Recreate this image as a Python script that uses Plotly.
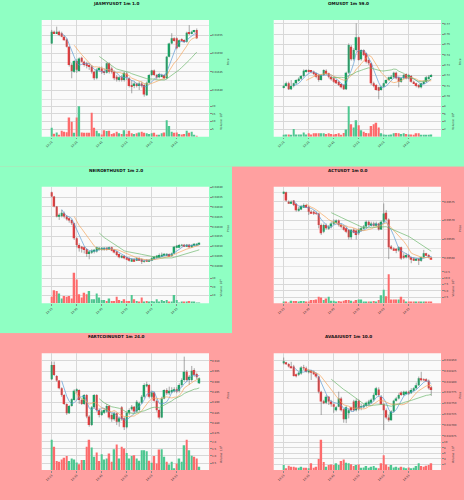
import plotly.graph_objects as go
import pandas as pd

# ---------------- shared time axis ----------------
TIME_LABELS = ["13:21", "13:31", "13:41", "13:51", "14:01", "14:11"]
TIME_TICK_INDEX = [0, 10, 20, 30, 40, 50]

# ---------------- JASMYUSDT (prices in 1e-6 USDT, volume in 1e5) ----------------
jasmy_open = [16527,16559,16555,16559,16555,16545,16538,16518,16468,16450,16479,16452,16488,16477,16473,16468,16464,16450,16432,16455,16459,16450,16447,16473,16459,16450,16436,16427,16436,16427,16445,16432,16414,16411,16418,16411,16418,16414,16386,16420,16441,16453,16441,16435,16438,16441,16432,16491,16527,16541,16541,16518,16538,16536,16532,16556,16555,16559,16564]
jasmy_close = [16559,16555,16559,16550,16545,16536,16518,16468,16452,16479,16455,16486,16477,16468,16468,16464,16450,16432,16455,16459,16450,16447,16473,16450,16450,16432,16429,16435,16427,16447,16435,16411,16409,16418,16411,16418,16411,16388,16420,16441,16453,16441,16434,16444,16441,16432,16491,16527,16541,16536,16514,16536,16535,16532,16556,16553,16559,16562,16541]
jasmy_high = [16564,16562,16573,16562,16559,16550,16541,16520,16473,16482,16484,16489,16491,16480,16477,16473,16468,16453,16459,16464,16464,16459,16475,16475,16464,16453,16441,16438,16441,16450,16450,16435,16427,16423,16420,16423,16423,16418,16423,16444,16455,16456,16444,16447,16444,16444,16493,16529,16555,16544,16544,16538,16541,16538,16559,16577,16562,16564,16568]
jasmy_low = [16525,16553,16553,16547,16544,16535,16516,16464,16432,16447,16447,16450,16475,16464,16459,16455,16445,16427,16429,16450,16444,16441,16445,16445,16445,16427,16423,16423,16423,16423,16427,16407,16391,16405,16407,16400,16407,16382,16384,16418,16438,16438,16429,16432,16435,16429,16429,16489,16525,16532,16511,16516,16532,16529,16529,16550,16552,16556,16539]
jasmy_vol = [5.9,2.0,2.8,1.0,3.9,3.3,3.0,12.6,9.8,2.6,12.6,20.0,2.8,2.6,2.6,2.6,15.7,5.9,3.9,2.2,1.5,4.3,3.7,3.9,1.7,2.2,3.3,2.2,1.7,4.3,1.7,3.9,2.2,1.7,2.2,2.8,3.3,2.6,2.2,1.7,2.2,2.6,1.0,1.0,2.2,2.8,10.9,7.0,3.3,2.6,2.8,1.7,1.5,1.7,3.9,2.6,3.3,1.0,0.4]
jasmy_price_ticks = [0.01640, 0.01645, 0.01650, 0.01655]
jasmy_vol_ticks = [5, 10, 15, 20]

# ---------------- OMUSDT (prices in 1e-4 USDT, volume in 1e4) ----------------
om_open = [7084,7097,7123,7065,7097,7123,7149,7168,7194,7236,7246,7246,7236,7220,7204,7155,7204,7246,7220,7188,7172,7155,7139,7116,7107,7065,7227,7479,7356,7447,7570,7356,7447,7414,7349,7317,7123,7107,7084,7058,7091,7123,7155,7172,7181,7227,7181,7139,7172,7214,7172,7194,7139,7123,7107,7084,7123,7139,7172,7188]
om_close = [7097,7123,7065,7097,7123,7155,7168,7194,7246,7246,7236,7236,7214,7188,7155,7204,7252,7214,7188,7162,7139,7123,7107,7084,7065,7227,7495,7356,7447,7570,7349,7447,7398,7333,7317,7123,7097,7058,7052,7091,7123,7155,7181,7188,7227,7172,7139,7172,7204,7172,7204,7139,7123,7097,7084,7123,7139,7181,7188,7204]
om_high = [7107,7139,7139,7155,7129,7162,7181,7204,7259,7259,7259,7252,7246,7227,7214,7214,7259,7259,7227,7194,7181,7162,7149,7123,7116,7236,7511,7495,7463,7705,7576,7453,7453,7421,7366,7324,7139,7116,7091,7097,7129,7162,7188,7204,7236,7236,7188,7181,7214,7220,7214,7204,7149,7129,7116,7129,7149,7194,7204,7214]
om_low = [7074,7091,7058,7058,7084,7116,7139,7155,7181,7227,7227,7220,7204,7172,7139,7149,7194,7204,7172,7149,7129,7116,7097,7074,7058,7058,7214,7343,7343,7430,7343,7343,7388,7317,7301,7107,7084,7052,6968,7052,7084,7116,7149,7162,7172,7162,7084,7129,7162,7162,7162,7129,7116,7084,7074,7074,7116,7129,7162,7181]
om_vol = [0.4,0.6,0.6,0.4,2.0,0.6,0.6,0.6,1.1,0.6,0.9,0.6,0.9,0.9,0.9,0.9,0.9,0.7,0.9,0.7,0.6,0.7,0.9,0.4,1.0,1.9,8.0,3.3,2.4,4.3,3.0,1.7,1.3,1.0,0.9,2.8,3.3,3.7,2.4,0.9,0.6,0.4,0.4,0.6,0.9,1.0,0.9,0.7,0.9,0.7,0.6,0.6,0.4,0.9,0.9,0.4,0.4,0.3,0.4,0.6]
om_price_ticks = [0.70, 0.71, 0.72, 0.73, 0.74, 0.75, 0.76, 0.77]
om_vol_ticks = [2, 4, 6, 8]

# ---------------- NEIROETHUSDT (prices in 1e-6 USDT, volume in 1e4) ----------------
neiro_open = [40375,40353,40302,40251,40254,40268,40251,40242,40234,40217,40141,40107,40098,40095,40085,40061,40071,40073,40073,40085,40085,40085,40092,40085,40095,40081,40073,40061,40044,40051,40044,40039,40027,40034,40027,40039,40034,40022,40031,40025,40031,40039,40044,40047,40051,40056,40056,40061,40051,40064,40095,40098,40105,40108,40102,40108,40095,40107,40108,40112]
neiro_close = [40353,40302,40251,40259,40271,40251,40237,40231,40217,40141,40107,40090,40090,40081,40061,40073,40078,40081,40095,40090,40092,40090,40085,40095,40078,40068,40056,40044,40051,40039,40034,40027,40034,40027,40039,40031,40022,40027,40027,40031,40039,40047,40051,40056,40056,40059,40061,40051,40064,40098,40102,40107,40107,40102,40108,40095,40107,40110,40112,40115]
neiro_high = [40378,40356,40305,40268,40285,40276,40259,40247,40237,40220,40146,40115,40102,40098,40090,40078,40085,40085,40098,40095,40095,40095,40095,40098,40098,40085,40078,40064,40056,40056,40047,40044,40039,40039,40044,40044,40039,40031,40034,40034,40044,40051,40056,40064,40068,40064,40064,40064,40068,40102,40107,40112,40112,40112,40112,40112,40110,40115,40115,40119]
neiro_low = [40349,40298,40247,40234,40247,40242,40231,40220,40208,40132,40095,40073,40068,40064,40047,40034,40061,40064,40068,40078,40078,40078,40078,40081,40075,40064,40051,40039,40039,40034,40031,40022,40025,40022,40025,40027,40010,40017,40022,40022,40027,40034,40039,40044,40047,40051,40051,40047,40047,40061,40092,40095,40102,40098,40098,40092,40092,40102,40105,40108]
neiro_vol = [8,16,15,12,6,9,8,9,6,37,29,11,7,13,11,15,5,5,12,7,4,4,3,6,3,3,8,4,3,5,3,3,10,5,3,2,7,2,3,2,3,2,5,2,4,3,4,2,2,10,4,1,2,2,2,3,2,2,1,1]
neiro_price_ticks = [0.04000, 0.04005, 0.04010, 0.04015, 0.04020, 0.04025, 0.04030, 0.04035, 0.04040]
neiro_vol_ticks = [10, 20, 30]

# ---------------- ACTUSDT (prices in 1e-6 USDT, volume in 1e5) ----------------
act_open = [95773,95776,95751,95746,95754,95745,95727,95730,95737,95742,95737,95724,95724,95721,95719,95688,95670,95688,95679,95684,95692,95694,95700,95688,95684,95679,95675,95655,95675,95673,95666,95673,95679,95684,95697,95688,95692,95688,95692,95676,95697,95721,95703,95630,95625,95622,95619,95628,95603,95601,95607,95601,95598,95594,95596,95592,95601,95612,95607,95600]
act_close = [95776,95754,95746,95751,95742,95728,95730,95739,95742,95737,95724,95721,95719,95719,95688,95666,95688,95679,95684,95692,95697,95700,95688,95684,95675,95670,95655,95675,95670,95661,95675,95679,95684,95697,95688,95692,95688,95692,95676,95697,95719,95703,95628,95625,95621,95619,95628,95598,95601,95607,95601,95596,95594,95596,95592,95601,95612,95607,95601,95596]
act_high = [95778,95778,95754,95754,95755,95746,95737,95742,95746,95745,95739,95728,95727,95724,95721,95692,95692,95692,95688,95697,95703,95703,95703,95692,95688,95684,95676,95676,95679,95676,95679,95684,95688,95700,95700,95697,95697,95697,95694,95700,95746,95728,95706,95634,95628,95625,95631,95630,95612,95612,95610,95603,95601,95598,95598,95603,95621,95613,95610,95603]
act_low = [95772,95751,95745,95745,95739,95724,95724,95728,95736,95736,95715,95719,95715,95715,95679,95661,95666,95676,95675,95679,95688,95692,95684,95679,95673,95666,95649,95649,95666,95649,95661,95670,95676,95679,95684,95684,95684,95684,95673,95675,95692,95700,95596,95621,95619,95612,95616,95594,95596,95598,95598,95585,95592,95592,95580,95589,95598,95604,95598,95596]
act_vol = [0.6,0.4,0.3,1.0,0.9,0.9,0.6,0.9,0.9,0.6,0.6,1.3,1.3,1.5,2.6,2.3,1.3,1.9,2.6,1.0,1.0,0.6,0.9,0.6,1.0,1.3,1.3,1.0,0.6,1.3,1.5,1.5,0.6,0.6,0.6,0.6,0.9,0.6,1.3,3.2,5.4,2.8,11.5,1.5,1.5,1.5,1.5,2.6,1.5,0.6,0.6,0.6,0.6,0.6,0.6,0.4,0.6,0.4,0.6,0.6]
act_price_ticks = [0.09560, 0.09565, 0.09570, 0.09575]
act_vol_ticks = [2.5, 5.0, 7.5, 10.0, 12.5]

# ---------------- FARTCOINUSDT (prices in 1e-4 USDT, volume in 1e5) ----------------
fart_open = [9011,9081,9027,9005,8968,8935,8892,8847,8882,8911,8956,8960,8911,8892,8935,8831,8790,8876,8935,8863,8839,8850,8855,8882,8839,8818,8847,8806,8876,8823,8779,8847,8866,8879,8855,8863,8898,8927,8979,8984,8927,8947,8908,8863,8827,8919,8960,8944,8952,8956,8963,8956,8984,9008,9048,9008,9008,9056,9037,8992]
fart_close = [9081,9032,9005,8968,8935,8892,8847,8882,8915,8956,8960,8911,8892,8935,8831,8790,8876,8935,8863,8839,8855,8863,8882,8827,8818,8847,8806,8823,8818,8779,8850,8863,8879,8855,8903,8895,8927,8984,8984,8927,8947,8908,8863,8827,8919,8960,8944,8956,8960,8963,8952,8984,9008,9048,9008,9024,9053,9032,9021,9016]
fart_high = [9097,9097,9032,9008,8973,8940,8895,8887,8919,8963,8968,8963,8919,8940,8940,8839,8882,8940,8940,8871,8863,8871,8892,8887,8847,8855,8850,8831,8882,8831,8855,8871,8887,8882,8911,8903,8935,8992,9000,8989,8956,8952,8915,8871,8927,8963,8968,8976,8973,8973,8973,8992,9016,9121,9056,9032,9076,9065,9044,9021]
fart_low = [9008,9027,9000,8963,8927,8887,8839,8844,8879,8908,8944,8892,8887,8887,8823,8782,8785,8871,8855,8827,8834,8844,8850,8818,8806,8811,8790,8782,8811,8766,8774,8839,8860,8847,8850,8855,8892,8919,8973,8919,8919,8903,8855,8818,8823,8915,8935,8935,8944,8947,8944,8947,8976,9000,9000,8984,9000,9024,9011,8989]
fart_vol = [2.15,1.65,0.64,0.59,0.75,0.87,0.99,0.64,0.82,0.75,0.54,0.42,0.71,0.71,1.65,2.15,1.6,0.94,1.25,0.64,1.13,0.75,0.82,1.18,0.59,1.48,1.81,0.82,1.65,1.53,1.22,0.82,0.99,1.06,0.82,0.66,1.41,1.41,1.34,0.66,0.52,0.99,0.47,1.46,1.48,0.94,0.59,0.40,0.59,0.12,0.47,0.82,0.59,1.76,2.15,1.41,1.01,0.94,0.82,0.24]
fart_price_ticks = [0.875, 0.880, 0.885, 0.890, 0.895, 0.900, 0.905, 0.910]
fart_vol_ticks = [0.5, 1.0, 1.5, 2.0]

# ---------------- AVAAIUSDT (prices in 1e-6 USDT, volume in 1e5) ----------------
ava_open = [32843,32844,32841,32836,32835,32816,32816,32819,32833,32831,32823,32826,32823,32819,32812,32777,32754,32751,32765,32754,32748,32734,32742,32761,32736,32713,32727,32741,32754,32734,32756,32741,32741,32744,32748,32751,32758,32769,32782,32765,32748,32734,32717,32711,32731,32756,32761,32775,32769,32773,32777,32773,32779,32785,32792,32808,32805,32805,32802,32787]
ava_close = [32846,32841,32835,32833,32813,32813,32821,32833,32831,32823,32826,32821,32819,32812,32777,32754,32751,32765,32754,32748,32742,32741,32761,32734,32713,32741,32734,32734,32734,32756,32736,32742,32744,32751,32754,32758,32769,32785,32769,32748,32734,32717,32711,32731,32756,32761,32769,32769,32777,32777,32772,32781,32785,32792,32808,32804,32804,32802,32785,32781]
ava_high = [32856,32846,32843,32846,32839,32819,32823,32836,32839,32835,32829,32827,32826,32821,32813,32779,32758,32769,32767,32758,32750,32744,32777,32765,32738,32744,32738,32742,32758,32761,32759,32748,32748,32754,32758,32761,32773,32788,32787,32769,32751,32738,32723,32734,32758,32765,32773,32778,32779,32779,32779,32785,32787,32798,32812,32823,32808,32808,32805,32790]
ava_low = [32840,32839,32833,32831,32812,32810,32813,32816,32827,32821,32819,32804,32816,32808,32773,32723,32748,32748,32746,32742,32728,32731,32741,32731,32705,32704,32715,32731,32731,32731,32733,32734,32738,32741,32746,32748,32754,32767,32765,32746,32688,32713,32707,32710,32728,32754,32759,32767,32767,32772,32769,32772,32777,32782,32790,32802,32802,32800,32782,32767]
ava_vol = [1.8,0.6,1.5,1.2,1.2,0.9,0.8,1.2,0.8,0.8,0.6,2.4,0.8,1.2,3.9,10.8,2.9,1.2,1.8,2.0,1.8,2.4,1.8,3.2,3.8,2.6,2.4,2.1,1.4,1.8,2.0,0.8,0.9,1.4,0.8,1.2,1.4,0.8,0.6,2.4,5.3,2.0,1.2,1.8,0.9,1.2,0.8,1.2,0.9,0.6,0.9,0.6,0.8,1.4,2.4,1.4,1.2,1.5,1.8,2.4]
ava_price_ticks = [0.032675, 0.032700, 0.032725, 0.032750, 0.032775, 0.032800, 0.032825, 0.032850]
ava_vol_ticks = [2, 4, 6, 8, 10]

# ---------------- style ----------------
W, H = 464, 500
UP, DOWN = "#00b060", "#fe3032"
VUP, VDOWN = "#4dc790", "#fd6b6c"
WICK = "#707070"
MA_WINDOWS = [5, 10, 20]
MA_COLORS = ["#5a9bd4", "#f5a55a", "#6cb86c"]
GREEN_BG, RED_BG = "#8fffc3", "#ffa0a0"
PLOT_BG = "#fafafa"
GRID = "#d8d8d8"
FONT = "DejaVu Sans"

panels = [
    dict(title="JASMYUSDT 1m 1.0", o=jasmy_open, h=jasmy_high, l=jasmy_low, c=jasmy_close, v=jasmy_vol,
         scale=1e-6, pt=jasmy_price_ticks, vt=jasmy_vol_ticks, pfmt=".5f", vfmt="d", vexp=5,
         prange=[0.0163605, 0.016591], vrange=[0, 21.0], minor=True),
    dict(title="OMUSDT 1m 59.0", o=om_open, h=om_high, l=om_low, c=om_close, v=om_vol,
         scale=1e-4, pt=om_price_ticks, vt=om_vol_ticks, pfmt=".2f", vfmt="d", vexp=4,
         prange=[0.69175, 0.7738], vrange=[0, 8.4], minor=False),
    dict(title="NEIROETHUSDT 1m 2.0", o=neiro_open, h=neiro_high, l=neiro_low, c=neiro_close, v=neiro_vol,
         scale=1e-6, pt=neiro_price_ticks, vt=neiro_vol_ticks, pfmt=".5f", vfmt="d", vexp=4,
         prange=[0.0399737, 0.040403], vrange=[0, 38.6], minor=False),
    dict(title="ACTUSDT 1m 0.0", o=act_open, h=act_high, l=act_low, c=act_close, v=act_vol,
         scale=1e-6, pt=act_price_ticks, vt=act_vol_ticks, pfmt=".5f", vfmt=".1f", vexp=5,
         prange=[0.0955636, 0.0957913], vrange=[0, 12.6], minor=True),
    dict(title="FARTCOINUSDT 1m 24.0", o=fart_open, h=fart_high, l=fart_low, c=fart_close, v=fart_vol,
         scale=1e-4, pt=fart_price_ticks, vt=fart_vol_ticks, pfmt=".3f", vfmt=".1f", vexp=5,
         prange=[0.87282, 0.9137], vrange=[0, 2.27], minor=False),
    dict(title="AVAAIUSDT 1m 10.0", o=ava_open, h=ava_high, l=ava_low, c=ava_close, v=ava_vol,
         scale=1e-6, pt=ava_price_ticks, vt=ava_vol_ticks, pfmt=".6f", vfmt="d", vexp=5,
         prange=[0.03267, 0.0328657], vrange=[0, 11.4], minor=False),
]
backgrounds = [GREEN_BG, GREEN_BG, GREEN_BG, RED_BG, RED_BG, RED_BG]

CELL_W, CELL_H = W / 2, H / 3
PLOT_L, PLOT_R = 41.7, 209.0
PRICE_T, PRICE_B = 20.0, 104.5
VOL_T, VOL_B = 104.8, 136.7
XRANGE = [-4.0, 62.9]

fig = go.Figure()
layout = dict(width=W, height=H, margin=dict(l=0, r=0, t=0, b=0), paper_bgcolor=RED_BG,
              plot_bgcolor="rgba(0,0,0,0)", showlegend=False, barmode="overlay",
              font=dict(family=FONT, color="#222"), shapes=[], annotations=[])
cell_shapes, plot_shapes = [], []

for p, pn in enumerate(panels):
    row, col = divmod(p, 2)
    cx, cy = col * CELL_W, row * CELL_H
    cell_shapes.append(dict(type="rect", xref="paper", yref="paper", layer="below",
                            x0=cx / W, x1=(cx + CELL_W) / W, y0=1 - (cy + CELL_H) / H, y1=1 - cy / H,
                            fillcolor=backgrounds[p], line=dict(width=0)))
    plot_shapes.append(dict(type="rect", xref="paper", yref="paper", layer="below",
                            x0=(cx + PLOT_L) / W, x1=(cx + PLOT_R) / W,
                            y0=1 - (cy + VOL_B) / H, y1=1 - (cy + PRICE_T) / H,
                            fillcolor=PLOT_BG, line=dict(width=0)))
    s = pn["scale"]
    o = [v * s for v in pn["o"]]
    hh = [v * s for v in pn["h"]]
    ll = [v * s for v in pn["l"]]
    c = [v * s for v in pn["c"]]
    n = len(o)
    idx = list(range(n))
    up = [ci >= oi for oi, ci in zip(o, c)]
    span = pn["prange"][1] - pn["prange"][0]
    minh = span * 0.005
    px, py = f"x{2*p+1}", f"y{2*p+1}"
    vx, vy = f"x{2*p+2}", f"y{2*p+2}"

    wx, wy = [], []
    for i in idx:
        wx += [i, i, None]
        wy += [ll[i], hh[i], None]
    fig.add_trace(go.Scatter(x=wx, y=wy, mode="lines", line=dict(color=WICK, width=0.6),
                             xaxis=px, yaxis=py, hoverinfo="skip"))
    fig.add_trace(go.Bar(x=idx, y=[max(abs(ci - oi), minh) for oi, ci in zip(o, c)],
                         base=[min(oi, ci) for oi, ci in zip(o, c)], width=0.72,
                         marker=dict(color=[UP if u else DOWN for u in up], line=dict(width=0)),
                         xaxis=px, yaxis=py))
    cs = pd.Series(c)
    for w, colr in zip(MA_WINDOWS, MA_COLORS):
        fig.add_trace(go.Scatter(x=idx, y=cs.rolling(w).mean(), mode="lines",
                                 line=dict(color=colr, width=0.8), opacity=0.85,
                                 xaxis=px, yaxis=py, hoverinfo="skip"))
    fig.add_trace(go.Bar(x=idx, y=pn["v"], width=0.72,
                         marker=dict(color=[VUP if u else VDOWN for u in up], line=dict(width=0)),
                         xaxis=vx, yaxis=vy))

    xdom = [(cx + PLOT_L) / W, (cx + PLOT_R) / W]
    pdom = [1 - (cy + PRICE_B) / H, 1 - (cy + PRICE_T) / H]
    vdom = [1 - (cy + VOL_B) / H, 1 - (cy + VOL_T) / H]
    xcommon = dict(domain=xdom, range=XRANGE, tickmode="array", tickvals=TIME_TICK_INDEX,
                   showgrid=True, gridcolor=GRID, gridwidth=0.6, zeroline=False, showline=False)
    layout[f"xaxis{2*p+1}"] = dict(xcommon, anchor=py, showticklabels=False)
    layout[f"xaxis{2*p+2}"] = dict(xcommon, anchor=vy, matches=px, ticktext=TIME_LABELS,
                                   tickangle=-45, tickfont=dict(size=2.8, color="#333"),
                                   ticks="outside", ticklen=1.5, tickcolor="#888", tickwidth=0.5)
    pt = pn["pt"]
    yprice = dict(domain=pdom, range=pn["prange"], side="right", anchor=px, tickmode="array",
                  tickvals=pt, ticktext=[format(t, pn["pfmt"]) for t in pt],
                  tickfont=dict(size=2.6, color="#333"), ticks="outside", ticklen=1.5,
                  tickcolor="#888", tickwidth=0.5, showgrid=True, gridcolor=GRID, gridwidth=0.6,
                  zeroline=False, showline=False)
    if pn["minor"]:
        step = pt[1] - pt[0]
        mids = [pt[0] - step / 2] + [(a + b) / 2 for a, b in zip(pt[:-1], pt[1:])] + [pt[-1] + step / 2]
        yprice["minor"] = dict(tickvals=mids, showgrid=True, gridcolor="#e4e4e4", gridwidth=0.5)
    layout[f"yaxis{2*p+1}"] = yprice
    vt = pn["vt"]
    layout[f"yaxis{2*p+2}"] = dict(domain=vdom, range=pn["vrange"], side="right", anchor=vx,
                                   tickmode="array", tickvals=vt,
                                   ticktext=[str(int(t)) if pn["vfmt"] == "d" else format(t, pn["vfmt"]) for t in vt],
                                   tickfont=dict(size=2.6, color="#333"), ticks="outside", ticklen=1.5,
                                   tickcolor="#888", tickwidth=0.5, showgrid=True, gridcolor=GRID,
                                   gridwidth=0.6, zeroline=False, showline=False)
    layout["annotations"].append(dict(text=f"<b>{pn['title']}</b>", xref="paper", yref="paper",
                                      x=(cx + CELL_W / 2) / W, y=1 - (cy + 3.5) / H, showarrow=False,
                                      xanchor="center", yanchor="middle",
                                      font=dict(size=4.2, family=FONT, color="#111")))
    layout["annotations"].append(dict(text="Price", xref="paper", yref="paper", textangle=-90,
                                      x=(cx + 228) / W, y=(pdom[0] + pdom[1]) / 2, showarrow=False,
                                      xanchor="center", yanchor="middle",
                                      font=dict(size=2.8, family=FONT, color="#333")))
    layout["annotations"].append(dict(text=f"Volume  10<sup>{pn['vexp']}</sup>", xref="paper", yref="paper",
                                      textangle=-90, x=(cx + 221) / W, y=(vdom[0] + vdom[1]) / 2,
                                      showarrow=False, xanchor="center", yanchor="middle",
                                      font=dict(size=2.8, family=FONT, color="#333")))

layout["shapes"] = cell_shapes + plot_shapes
fig.update_layout(**layout)
fig.write_html("out.html", config={"displayModeBar": False})
